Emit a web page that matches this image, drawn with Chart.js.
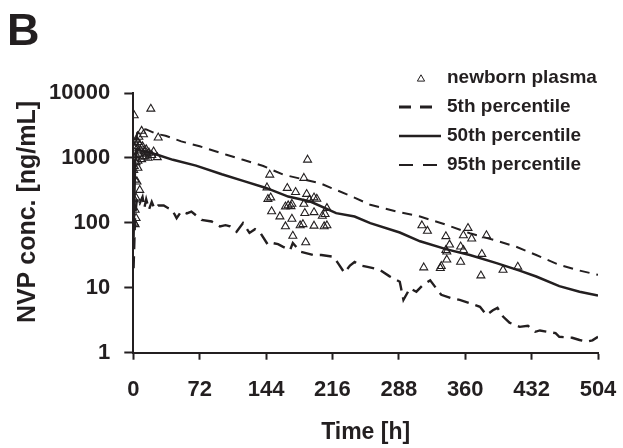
<!DOCTYPE html>
<html>
<head>
<meta charset="utf-8">
<script src="https://cdn.jsdelivr.net/npm/chart.js@4.4.0/dist/chart.umd.min.js"></script>
<style>
  html, body { margin: 0; padding: 0; background: #fff; }
  #wrap { position: relative; width: 623px; height: 448px; }
</style>
</head>
<body>
<div id="wrap"><canvas id="chart"></canvas></div>
<script>
// --- DATA ---
const xTicks = [0, 72, 144, 216, 288, 360, 432, 504];
const yTicks = [1, 10, 100, 1000, 10000];

// observed newborn plasma concentrations (h, ng/mL)
const plasmaTime = [
  1, 19, 27, 9, 11, 6, 3, 5, 2, 1, 4, 7, 8, 10, 12, 14, 15, 17, 13, 6, 3, 2, 9, 20, 26, 0.5, 1, 3, 5, 2, 4, 7, 3, 1, 2, 3, 1, 2, 5, 16, 22, 11,
  189, 148, 185, 145, 146, 167, 176, 149, 188, 196, 191, 199, 185, 172, 165, 168, 171, 210, 208, 150, 186, 196, 159, 172, 205, 165, 181, 184, 196, 207, 210, 173, 187,
  313, 319, 363, 383, 339, 358, 367, 343, 339, 340, 355, 358, 378, 340, 355, 315, 333, 334, 401, 417, 377
];
const plasmaConc = [
  4500, 5700, 2050, 2600, 2300, 2100, 1900, 1750, 1700, 1500, 1400, 1600, 1300, 1500, 1250, 1350, 1150, 1200, 1050, 1150, 1100, 1000, 950, 1100, 1020, 650, 750, 850, 700, 460, 430, 320, 243, 230, 158, 118, 100, 95, 900, 1000, 1250, 1050,
  936, 550, 490, 350, 232, 343, 297, 245, 277, 245, 226, 234, 195, 195, 178, 185, 180, 168, 136, 150, 141, 145, 125, 115, 128, 88, 91, 95, 90, 88, 91, 63, 50,
  91, 75, 83, 64, 62, 64, 57, 46, 38, 36, 43, 38, 33, 27, 25, 20.5, 20, 21.5, 18.8, 21, 15.4
];

// simulated percentiles
const p50Time = [0.3, 2, 4, 8, 14, 26, 43, 68, 96, 120, 144, 168, 192, 220, 240, 257, 289, 311, 340, 365, 394, 419, 437, 462, 484, 504];
const p50Conc = [60, 900, 1350, 1300, 1260, 1120, 935, 760, 560, 440, 345, 254, 213, 141, 125, 99, 71, 52, 39, 32, 24, 18.4, 14.9, 10.6, 8.7, 7.6];

const p95Time = [0.3, 4, 8, 14, 25, 35, 52, 72, 101, 119, 141, 150, 163, 184, 202, 215, 233, 257, 286, 311, 336, 365, 394, 415, 437, 462, 484, 504];
const p95Conc = [300, 2400, 2800, 2750, 2350, 2200, 1800, 1510, 1120, 935, 750, 660, 550, 470, 410, 343, 270, 190, 149, 125, 97, 69, 53, 43, 32, 22.5, 18.4, 15.8];

const p5Time = [0.3, 2, 4, 7, 10, 12, 14, 17, 20, 23, 27, 33, 38, 42, 47, 52, 58, 63, 74, 85, 94, 100, 105, 112, 119, 126, 132, 137, 146, 151, 157, 162, 170, 173, 181, 195, 204, 217, 222, 229, 235, 240, 247, 254, 267, 278, 289, 293, 300, 307, 314, 322, 330, 334, 345, 354, 365, 376, 383, 390, 395, 401, 408, 419, 428, 436, 441, 458, 462, 476, 484, 492, 498, 504];
const p5Conc = [20, 130, 240, 200, 250, 170, 230, 160, 210, 165, 185, 185, 168, 160, 118, 150, 140, 149, 111, 105, 88, 92, 88, 73, 99, 70, 80, 73, 46, 49, 47, 43, 38, 49, 36, 32, 32, 30, 24, 17, 22, 25, 22, 21, 19, 15, 12.4, 6.5, 9.8, 8.7, 11, 13, 9.2, 7.8, 6.9, 6.5, 5.8, 5.1, 3.8, 4.5, 4.9, 3.6, 2.9, 2.5, 2.6, 2.1, 2.2, 2.0, 1.76, 1.7, 1.57, 1.48, 1.55, 1.76];

const legendLabels = ['newborn plasma', '5th percentile', '50th percentile', '95th percentile'];
const yTitle = 'NVP conc. [ng/mL]';

// --- STYLE ---
const INK = '#231f20';
const FONT = '"Liberation Sans", Arial, Helvetica, sans-serif';
const toPoints = (xs, ys) => xs.map((x, i) => ({ x, y: ys[i] }));

// panel letter, y title and legend drawn on top of the chart
const decorPlugin = {
  id: 'decor',
  afterDraw(chart) {
    const ctx = chart.ctx;
    ctx.save();
    ctx.fillStyle = INK;
    ctx.font = 'bold 45px ' + FONT;
    ctx.textBaseline = 'alphabetic';
    ctx.textAlign = 'left';
    ctx.fillText('B', 7, 45);

    // rotated y title
    ctx.save();
    ctx.translate(28, 212);
    ctx.rotate(-Math.PI / 2);
    ctx.font = 'bold 25px ' + FONT;
    ctx.textAlign = 'center';
    ctx.textBaseline = 'middle';
    ctx.fillText(yTitle, 0, 0);
    ctx.restore();

    const rowY = [78, 107, 136, 165];
    const textX = 447;
    ctx.font = 'bold 19px ' + FONT;
    ctx.textBaseline = 'middle';
    ctx.textAlign = 'left';
    legendLabels.forEach((label, i) => ctx.fillText(label, textX, rowY[i]));

    // legend samples
    ctx.strokeStyle = INK;
    ctx.fillStyle = 'rgba(255,255,255,0)';
    Chart.helpers.drawPoint(ctx, { pointStyle: 'triangle', radius: 4.2, borderWidth: 1, rotation: 0 }, 421, rowY[0] + 1);
    const samples = [
      { y: rowY[1], dash: [12, 9], w: 3 },
      { y: rowY[2], dash: [], w: 2.5 },
      { y: rowY[3], dash: [14, 10], w: 1.8 }
    ];
    samples.forEach(s => {
      ctx.beginPath();
      ctx.setLineDash(s.dash);
      ctx.lineWidth = s.w;
      ctx.moveTo(399, s.y);
      ctx.lineTo(441, s.y);
      ctx.stroke();
    });
    ctx.restore();
  }
};

const ctx = document.getElementById('chart').getContext('2d');
new Chart(ctx, {
  type: 'scatter',
  data: {
    datasets: [
      {
        label: legendLabels[0],
        data: toPoints(plasmaTime, plasmaConc),
        pointStyle: 'triangle',
        pointRadius: 4.6,
        pointBorderWidth: 1.1,
        borderColor: INK,
        backgroundColor: 'rgba(255,255,255,0)',
        showLine: false
      },
      {
        label: legendLabels[1],
        data: toPoints(p5Time, p5Conc),
        showLine: true,
        pointRadius: 0,
        borderColor: INK,
        borderWidth: 2.4,
        borderDash: [12, 7],
        tension: 0
      },
      {
        label: legendLabels[2],
        data: toPoints(p50Time, p50Conc),
        showLine: true,
        pointRadius: 0,
        borderColor: INK,
        borderWidth: 2.5,
        tension: 0
      },
      {
        label: legendLabels[3],
        data: toPoints(p95Time, p95Conc),
        showLine: true,
        pointRadius: 0,
        borderColor: INK,
        borderWidth: 2,
        borderDash: [10, 7],
        tension: 0
      }
    ]
  },
  options: {
    responsive: true,
    maintainAspectRatio: false,
    animation: false,
    layout: { padding: { top: 93, right: 25, left: 0, bottom: 0 } },
    plugins: { legend: { display: false }, tooltip: { enabled: false } },
    scales: {
      x: {
        type: 'linear',
        min: 0,
        max: 504,
        afterBuildTicks: (scale) => { scale.ticks = xTicks.map(v => ({ value: v })); },
        afterFit: (scale) => { scale.height = 95.3; scale.paddingLeft = 0; scale.paddingRight = 0; },
        ticks: { color: INK, font: { family: FONT, size: 22, weight: 'bold' }, padding: 17, maxRotation: 0 },
        grid: { drawOnChartArea: false, drawTicks: true, tickLength: 7, tickWidth: 2, color: INK },
        border: { display: true, width: 2, color: INK },
        title: { display: true, text: 'Time [h]', color: INK, font: { family: FONT, size: 23, weight: 'bold' }, padding: { top: 0, bottom: 2 } }
      },
      y: {
        type: 'logarithmic',
        min: 1,
        max: 10000,
        afterBuildTicks: (scale) => { scale.ticks = yTicks.map(v => ({ value: v })); },
        afterFit: (scale) => { scale.width = 133.3; scale.paddingTop = 0; scale.paddingBottom = 0; },
        ticks: { color: INK, font: { family: FONT, size: 22, weight: 'bold' }, padding: 14, callback: (v) => String(v) },
        grid: { drawOnChartArea: false, drawTicks: true, tickLength: 9, tickWidth: 2, color: INK },
        border: { display: true, width: 2, color: INK }
      }
    }
  },
  plugins: [decorPlugin]
});
</script>
</body>
</html>
